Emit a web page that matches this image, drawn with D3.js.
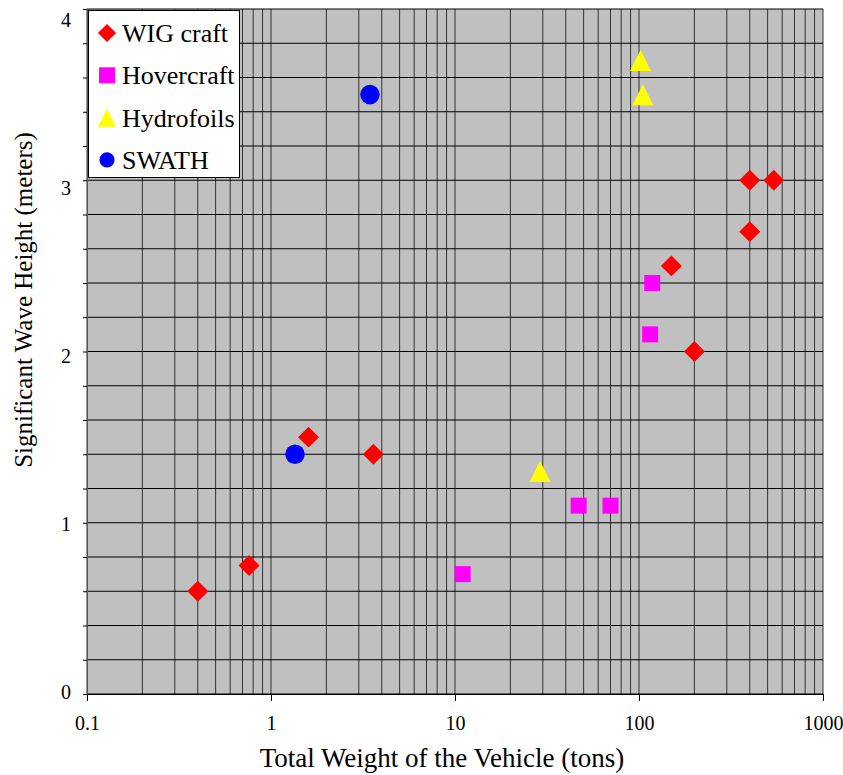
<!DOCTYPE html>
<meta charset="utf-8">
<style>
  body { margin: 0; background: #fff; }
  text { font-family: "Liberation Serif", "Times New Roman", serif; fill: #000; }
</style>
<body>
</body>
<script src="https://d3js.org/d3.v7.min.js"></script>
<script>

var width = 843,
    height = 775;

// series values
var seriesNames = ["WIG craft", "Hovercraft", "Hydrofoils", "SWATH"];
var seriesColors = ["#ff0000", "#ff00ff", "#ffff00", "#0000ff"];

var wigX = [0.4, 0.76, 1.6, 3.6, 150, 200, 400, 400, 540],
    wigY = [0.6, 0.75, 1.5, 1.4, 2.5, 2.0, 2.7, 3.0, 3.0];
var hoverX = [11, 47, 70, 115, 118],
    hoverY = [0.7, 1.1, 1.1, 2.1, 2.4];
var hydroX = [29, 102, 105],
    hydroY = [1.3, 3.7, 3.5];
var swathX = [1.35, 3.45],
    swathY = [1.4, 3.5];

var xTickLabels = [0.1, 1, 10, 100, 1000];
var yTickLabels = [0, 1, 2, 3, 4];

var margin = {left: 87, right: 20, top: 9, bottom: 81};

var x = d3.scaleLog()
    .domain([0.1, 1000])
    .range([margin.left, width - margin.right]);
var y = d3.scaleLinear()
    .domain([0, 4])
    .range([height - margin.bottom, margin.top]);

// isoceles triangle, as wide as it is tall, centred on its box
var triangle = {
  draw: function(ctx, size) {
    var r = Math.sqrt(size) / 2;
    ctx.moveTo(0, -r);
    ctx.lineTo(r, r);
    ctx.lineTo(-r, r);
    ctx.closePath();
  }
};

var shapes = [
  {type: d3.symbolSquare, size: 220, rot: 45, legendSize: 165},
  {type: d3.symbolSquare, size: 256, rot: 0, legendSize: 256},
  {type: triangle, size: 441, rot: 0, legendSize: 330},
  {type: d3.symbolCircle, size: 299, rot: 0, legendSize: 180}
];

var series = [
  d3.zip(wigX, wigY),
  d3.zip(hoverX, hoverY),
  d3.zip(hydroX, hydroY),
  d3.zip(swathX, swathY)
];

var svg = d3.select("body").append("svg")
    .attr("width", width)
    .attr("height", height);

svg.append("rect")
    .attr("x", x.range()[0])
    .attr("y", y.range()[1])
    .attr("width", x.range()[1] - x.range()[0])
    .attr("height", y.range()[0] - y.range()[1])
    .attr("fill", "#c0c0c0");

// grid
var yGrid = d3.range(0, 4.01, 0.2);
svg.append("g").selectAll("line")
    .data(x.ticks())
  .enter().append("line")
    .attr("x1", function(d) { return x(d); })
    .attr("x2", function(d) { return x(d); })
    .attr("y1", y(0))
    .attr("y2", y(4))
    .attr("stroke", "#333")
    .attr("stroke-width", 1);

svg.append("g").selectAll("line")
    .data(yGrid)
  .enter().append("line")
    .attr("x1", x(0.1))
    .attr("x2", x(1000))
    .attr("y1", function(d) { return y(d); })
    .attr("y2", function(d) { return y(d); })
    .attr("stroke", "#000")
    .attr("stroke-width", 1);

// axes
var xAxis = svg.append("g")
    .attr("transform", "translate(0," + y(0) + ")")
    .call(d3.axisBottom(x)
      .tickValues(xTickLabels)
      .tickSize(7)
      .tickPadding(15)
      .tickFormat(function(d) { return String(d); }));

var yAxis = svg.append("g")
    .attr("transform", "translate(" + x(0.1) + ",0)")
    .call(d3.axisLeft(y)
      .tickValues(yGrid)
      .tickSize(4)
      .tickPadding(12)
      .tickFormat(function(d) {
        var r = Math.round(d * 10) / 10;
        return yTickLabels.indexOf(r) >= 0 ? String(r) : "";
      }));

[xAxis, yAxis].forEach(function(a) {
  a.selectAll("text")
      .style("font-family", "'Liberation Serif', 'Times New Roman', serif")
      .style("font-size", "20px")
      .attr("fill", "#000");
  a.selectAll("line").attr("stroke", "#000");
});
xAxis.select(".domain").attr("stroke", "#000");
yAxis.select(".domain").attr("stroke", "#555");

// the original's y labels drift down a little towards the top
yAxis.selectAll("text")
    .attr("y", function(d) { return 3.3 * d - 2; });

// titles
svg.append("text")
    .attr("x", 442)
    .attr("y", 767)
    .attr("text-anchor", "middle")
    .style("font-size", "27px")
    .text("Total Weight of the Vehicle (tons)");

svg.append("text")
    .attr("transform", "translate(32,300) rotate(-90)")
    .attr("text-anchor", "middle")
    .style("font-size", "25px")
    .text("Significant Wave Height (meters)");

// points
series.forEach(function(pts, i) {
  var s = shapes[i];
  svg.append("g").selectAll("path")
      .data(pts)
    .enter().append("path")
      .attr("d", d3.symbol().type(s.type).size(s.size))
      .attr("transform", function(d) {
        return "translate(" + x(d[0]) + "," + y(d[1]) + ") rotate(" + s.rot + ")";
      })
      .attr("fill", seriesColors[i]);
});

// legend
var legend = svg.append("g");
legend.append("rect")
    .attr("x", 88.5)
    .attr("y", 10.5)
    .attr("width", 151)
    .attr("height", 167)
    .attr("fill", "#fff")
    .attr("stroke", "#000");

var item = legend.selectAll("g.item")
    .data(seriesNames)
  .enter().append("g")
    .attr("class", "item")
    .attr("transform", function(d, i) { return "translate(107," + (33 + i * 42.3) + ")"; });

item.append("path")
    .attr("d", function(d, i) { return d3.symbol().type(shapes[i].type).size(shapes[i].legendSize)(); })
    .attr("transform", function(d, i) { return "rotate(" + shapes[i].rot + ")"; })
    .attr("fill", function(d, i) { return seriesColors[i]; });

item.append("text")
    .attr("x", 15)
    .attr("dy", "0.35em")
    .style("font-size", "26px")
    .text(function(d) { return d; });

</script>
